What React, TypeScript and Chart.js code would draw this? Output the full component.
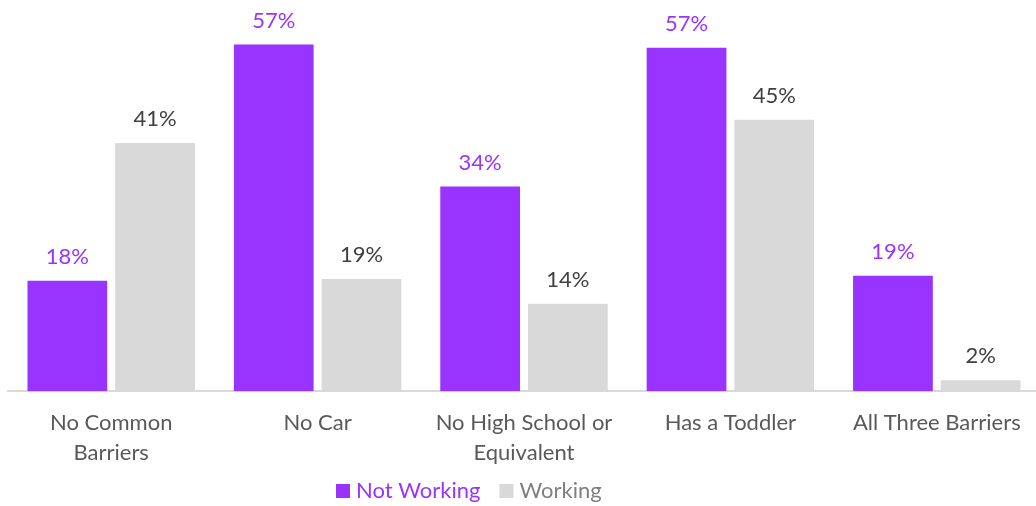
import React, { useEffect, useRef } from "react";
import { Chart, registerables } from "chart.js";

Chart.register(...registerables);

const categories: (string | string[])[] = [
  ["No Common", "Barriers"],
  "No Car",
  ["No High School or", "Equivalent"],
  "Has a Toddler",
  "All Three Barriers",
];
const notWorking = [18.2, 57.1, 33.7, 56.6, 19.0];
const working = [40.9, 18.5, 14.4, 44.7, 1.8];
const seriesNames = ["Not Working", "Working"];

const PURPLE = "#9933FF";
const GRAY = "#D9D9D9";
const FONT = "Lato, 'Open Sans', sans-serif";
const LEGEND_TEXT = [PURPLE, "#7F7F7F"];

const dataLabelPlugin = {
  id: "dataLabels",
  afterDatasetsDraw(chart: any) {
    const ctx = chart.ctx;
    ctx.save();
    ctx.font = `22px ${FONT}`;
    ctx.textAlign = "center";
    ctx.textBaseline = "middle";
    chart.data.datasets.forEach((ds: any, i: number) => {
      const meta = chart.getDatasetMeta(i);
      ctx.fillStyle = i === 0 ? PURPLE : "#404040";
      meta.data.forEach((el: any, j: number) => {
        const v = ds.data[j];
        ctx.fillText(`${Math.round(v)}%`, el.x, el.y - 24);
      });
    });
    ctx.restore();
  },
};

const customLegendPlugin = {
  id: "customLegend",
  afterDraw(chart: any) {
    const ctx = chart.ctx;
    ctx.save();
    ctx.font = `22px ${FONT}`;
    ctx.textAlign = "left";
    ctx.textBaseline = "middle";
    const cy = 491;
    let x = 336;
    chart.data.datasets.forEach((ds: any, i: number) => {
      ctx.fillStyle = ds.backgroundColor;
      ctx.fillRect(x, cy - 7, 14, 14);
      x += 20;
      ctx.fillStyle = LEGEND_TEXT[i];
      ctx.fillText(ds.label, x, cy);
      x += ctx.measureText(ds.label).width + 19;
    });
    ctx.restore();
  },
};

export default function App() {
  const ref = useRef<HTMLCanvasElement | null>(null);
  useEffect(() => {
    document.body.style.margin = "0";
    document.body.style.overflow = "hidden";
    const chart = new Chart(ref.current!, {
      type: "bar",
      data: {
        labels: categories,
        datasets: [
          {
            label: seriesNames[0],
            data: notWorking,
            backgroundColor: PURPLE,
            categoryPercentage: 0.85,
            barPercentage: 0.909,
          },
          {
            label: seriesNames[1],
            data: working,
            backgroundColor: GRAY,
            categoryPercentage: 0.85,
            barPercentage: 0.909,
          },
        ],
      },
      options: {
        animation: false,
        responsive: true,
        maintainAspectRatio: false,
        layout: { padding: { left: 8, right: 0, top: 27, bottom: 29 } },
        scales: {
          x: {
            grid: { display: false },
            border: { color: "#D9D9D9", width: 2 },
            ticks: {
              color: "#595959",
              font: { family: FONT, size: 22, lineHeight: 1.36 },
              maxRotation: 0,
              autoSkip: false,
              padding: 9,
            },
          },
          y: {
            display: false,
            min: 0,
            max: 60,
          },
        },
        plugins: {
          tooltip: { enabled: false },
          legend: { display: false },
        },
      },
      plugins: [dataLabelPlugin, customLegendPlugin],
    });
    return () => chart.destroy();
  }, []);
  return (
    <div style={{ width: 1036, height: 506, overflow: "hidden" }}>
      <div style={{ width: 1040, height: 506, position: "relative" }}>
        <canvas ref={ref} />
      </div>
    </div>
  );
}
